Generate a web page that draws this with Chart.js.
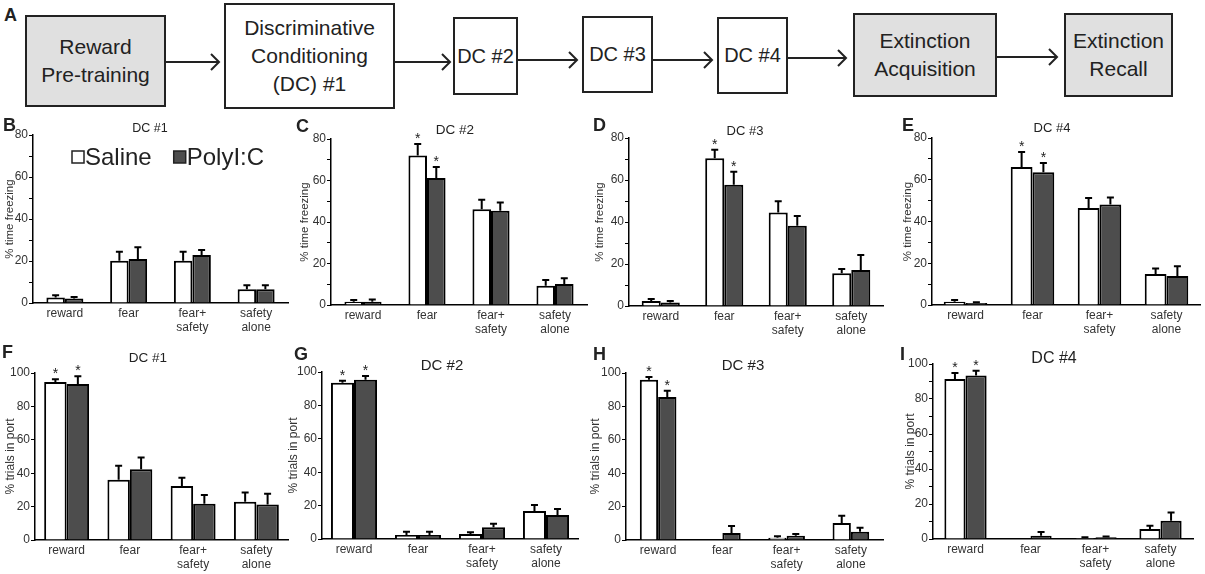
<!DOCTYPE html>
<html>
<head>
<meta charset="utf-8">
<title>Discriminative conditioning – Saline vs PolyI:C</title>
<script src="https://cdn.jsdelivr.net/npm/chart.js@4.4.1/dist/chart.umd.min.js"></script>
<style>
  html, body { margin: 0; padding: 0; background: #fff; overflow: hidden; }
  #fig { position: relative; width: 1205px; height: 574px; font-family: 'Liberation Sans', Arial, sans-serif; color: #222; }
  .box { position: absolute; box-sizing: border-box; border: 2px solid #222; display: flex; align-items: center; justify-content: center; text-align: center; font-size: 21px; line-height: 1.32; background: #fff; }
  .box.gray { background: #e0e0e0; }
  .box.small { font-size: 20px; }
  .letter { position: absolute; font-weight: bold; font-size: 18px; line-height: 1; }
  .panel { position: absolute; }
  #arrows { position: absolute; left: 0; top: 0; }
</style>
</head>
<body>
<div id="fig">
  <div class="letter" style="left:4px;top:6px">A</div>
  <div class="box gray" style="left:25px;top:15px;width:141px;height:92px">Reward<br>Pre-training</div>
  <div class="box" style="left:224px;top:3px;width:171px;height:106px">Discriminative<br>Conditioning<br>(DC) #1</div>
  <div class="box small" style="left:453px;top:17px;width:65px;height:78px">DC #2</div>
  <div class="box small" style="left:582px;top:16px;width:71px;height:77px">DC #3</div>
  <div class="box small" style="left:717px;top:17px;width:71px;height:77px">DC #4</div>
  <div class="box gray" style="left:853px;top:13px;width:144px;height:84px">Extinction<br>Acquisition</div>
  <div class="box gray" style="left:1064px;top:13px;width:109px;height:84px">Extinction<br>Recall</div>
  <svg id="arrows" width="1205" height="112" fill="none" stroke="#222" stroke-width="2">
    <path d="M166 62H219M211 54L219 62L211 70"/>
    <path d="M395 62H450M442 54L450 62L442 70"/>
    <path d="M518 60H577M569 52L577 60L569 68"/>
    <path d="M653 60H712M704 52L712 60L704 68"/>
    <path d="M788 58H846M838 50L846 58L838 66"/>
    <path d="M997 57H1057M1049 49L1057 57L1049 65"/>
  </svg>
</div>
<script>
Chart.defaults.font.family = "'Liberation Sans', Arial, sans-serif";
Chart.defaults.color = '#333';

// categories and groups
const categories = [['reward'], ['fear'], ['fear+', 'safety'], ['safety', 'alone']];
const groupNames = ['Saline', 'PolyI:C'];
const freezingTicks = [0, 20, 40, 60, 80];
const portTicks = [0, 20, 40, 60, 80, 100];

// % time freezing (B-E): mean and SEM
const freezeDC1Saline = [2.6, 20.1, 20.1, 6.5];
const freezeDC1SalineSem = [1.1, 4.3, 4.3, 2.0];
const freezeDC1Poly = [2.2, 20.9, 22.8, 6.5];
const freezeDC1PolySem = [0.7, 5.6, 2.4, 2.0];

const freezeDC2Saline = [1.6, 72.1, 46.2, 9.3];
const freezeDC2SalineSem = [0.8, 5.5, 4.5, 2.8];
const freezeDC2Poly = [1.6, 61.2, 45.4, 10.1];
const freezeDC2PolySem = [1.1, 5.3, 4.0, 2.8];

const freezeDC3Saline = [2.4, 70.4, 44.5, 15.6];
const freezeDC3SalineSem = [0.9, 4.0, 5.4, 2.0];
const freezeDC3Poly = [1.7, 57.7, 38.2, 17.2];
const freezeDC3PolySem = [0.7, 6.2, 4.6, 7.1];

const freezeDC4Saline = [1.6, 66.1, 46.5, 14.8];
const freezeDC4SalineSem = [0.8, 7.2, 4.7, 2.7];
const freezeDC4Poly = [1.0, 63.6, 48.1, 13.9];
const freezeDC4PolySem = [0.3, 4.4, 3.4, 4.7];

// % trials in port (F-I): mean and SEM
const portDC1Saline = [94.6, 36.1, 32.3, 22.9];
const portDC1SalineSem = [1.6, 8.3, 5.0, 5.6];
const portDC1Poly = [93.4, 42.4, 21.7, 21.3];
const portDC1PolySem = [4.6, 7.0, 5.2, 6.4];

const portDC2Saline = [93.6, 2.4, 3.0, 16.8];
const portDC2SalineSem = [1.2, 2.0, 1.0, 3.6];
const portDC2Poly = [95.4, 2.4, 7.0, 14.4];
const portDC2PolySem = [2.2, 2.0, 2.2, 3.6];

const portDC3Saline = [96.0, 0, 1.4, 10.2];
const portDC3SalineSem = [1.6, 0, 0.8, 4.3];
const portDC3Poly = [85.7, 4.2, 2.6, 5.0];
const portDC3PolySem = [3.7, 4.2, 1.0, 2.4];

const portDC4Saline = [91.4, 0, 0.6, 5.7];
const portDC4SalineSem = [3.4, 0, 0.4, 1.9];
const portDC4Poly = [93.5, 1.9, 1.0, 10.5];
const portDC4PolySem = [2.7, 2.1, 0.5, 4.6];

// which category gets significance stars
const freezeStars = [1];
const portStars = [0];

const FONT = "'Liberation Sans', Arial, sans-serif";

// panel layout (page pixels): canvas box [x, y, w, h], chart area [left, right, top, bottom]
const panels = [
  { letter: 'B', title: 'DC #1', titleAt: [150, 129, 12.5], letterAt: [3, 116], box: [0, 110, 300, 230], area: [33, 288, 135, 303], cat: 0.58,
    yTitle: '% time freezing', yMax: 80, yTicks: freezingTicks, stars: [], legend: true,
    saline: freezeDC1Saline, salineSem: freezeDC1SalineSem, poly: freezeDC1Poly, polySem: freezeDC1PolySem },
  { letter: 'C', title: 'DC #2', titleAt: [455, 130, 13.5], letterAt: [296, 117], box: [295, 110, 300, 230], area: [331, 587, 139, 305], cat: 0.58,
    yTitle: '% time freezing', yMax: 80, yTicks: freezingTicks, stars: freezeStars,
    saline: freezeDC2Saline, salineSem: freezeDC2SalineSem, poly: freezeDC2Poly, polySem: freezeDC2PolySem },
  { letter: 'D', title: 'DC #3', titleAt: [745, 131, 13], letterAt: [593, 116], box: [590, 110, 300, 230], area: [629, 883, 138, 306], cat: 0.6,
    yTitle: '% time freezing', yMax: 80, yTicks: freezingTicks, stars: freezeStars,
    saline: freezeDC3Saline, salineSem: freezeDC3SalineSem, poly: freezeDC3Poly, polySem: freezeDC3PolySem },
  { letter: 'E', title: 'DC #4', titleAt: [1052, 128, 13], letterAt: [902, 116], box: [898, 110, 307, 230], area: [932, 1200, 138, 305], cat: 0.65,
    yTitle: '% time freezing', yMax: 80, yTicks: freezingTicks, stars: freezeStars,
    saline: freezeDC4Saline, salineSem: freezeDC4SalineSem, poly: freezeDC4Poly, polySem: freezeDC4PolySem },
  { letter: 'F', title: 'DC #1', titleAt: [148, 358, 13.5], letterAt: [2, 343], box: [0, 340, 300, 234], area: [35, 288, 373, 540], cat: 0.71,
    yTitle: '% trials in port', yMax: 100, yTicks: portTicks, stars: portStars,
    saline: portDC1Saline, salineSem: portDC1SalineSem, poly: portDC1Poly, polySem: portDC1PolySem },
  { letter: 'G', title: 'DC #2', titleAt: [442, 366, 15], letterAt: [294, 345], box: [283, 340, 305, 234], area: [322, 578, 372, 539], cat: 0.72,
    yTitle: '% trials in port', yMax: 100, yTicks: portTicks, stars: portStars,
    saline: portDC2Saline, salineSem: portDC2SalineSem, poly: portDC2Poly, polySem: portDC2PolySem },
  { letter: 'H', title: 'DC #3', titleAt: [743, 366, 15], letterAt: [593, 345], box: [585, 340, 305, 234], area: [626, 883, 373, 540], cat: 0.57,
    yTitle: '% trials in port', yMax: 100, yTicks: portTicks, stars: portStars,
    saline: portDC3Saline, salineSem: portDC3SalineSem, poly: portDC3Poly, polySem: portDC3PolySem },
  { letter: 'I', title: 'DC #4', titleAt: [1054, 359, 16], letterAt: [900, 345], box: [900, 340, 305, 234], area: [933, 1193, 364, 539], cat: 0.65,
    yTitle: '% trials in port', yMax: 100, yTicks: portTicks, stars: portStars,
    saline: portDC4Saline, salineSem: portDC4SalineSem, poly: portDC4Poly, polySem: portDC4PolySem },
];

// error bars, asterisks, panel title and (for B) the in-plot legend
const barExtras = {
  id: 'barExtras',
  afterDatasetsDraw(chart, args, opts) {
    const { ctx } = chart;
    const y = chart.scales.y;
    ctx.save();
    ctx.strokeStyle = '#000';
    ctx.lineWidth = 2;
    ctx.fillStyle = '#222';
    ctx.textAlign = 'center';
    ctx.textBaseline = 'alphabetic';
    ctx.font = `14px ${FONT}`;
    chart.data.datasets.forEach((ds, di) => {
      chart.getDatasetMeta(di).data.forEach((bar, i) => {
        const sem = ds.sem[i];
        if (!sem) return;
        const top = y.getPixelForValue(ds.data[i] + sem);
        ctx.beginPath();
        ctx.moveTo(bar.x, bar.y);
        ctx.lineTo(bar.x, top);
        ctx.moveTo(bar.x - 3.5, top);
        ctx.lineTo(bar.x + 3.5, top);
        ctx.stroke();
        if (opts.stars.includes(i)) ctx.fillText('*', bar.x, top - 1);
      });
    });
    ctx.restore();
  },
  afterDraw(chart, args, opts) {
    const { ctx } = chart;
    ctx.save();
    ctx.fillStyle = '#222';
    ctx.textAlign = 'center';
    ctx.textBaseline = 'middle';
    ctx.font = `${opts.titleSize}px ${FONT}`;
    ctx.fillText(opts.title, opts.titleX, opts.titleY);

    if (opts.legend) {
      let x = opts.legend.x;
      const ly = opts.legend.y;
      ctx.font = `24px ${FONT}`;
      ctx.textAlign = 'left';
      chart.data.datasets.forEach((ds) => {
        ctx.fillStyle = ds.backgroundColor;
        ctx.fillRect(x, ly - 6, 12, 12);
        ctx.strokeStyle = '#222';
        ctx.lineWidth = 1.5;
        ctx.strokeRect(x, ly - 6, 12, 12);
        ctx.fillStyle = '#222';
        ctx.fillText(ds.label, x + 13, ly + 1);
        x += 13 + ctx.measureText(ds.label).width + 22;
      });
    }
    ctx.restore();
  },
};

const fig = document.getElementById('fig');

panels.forEach((p) => {
  const [cx, cy, cw, ch] = p.box;
  const [aLeft, aRight, aTop, aBottom] = p.area;

  const letter = document.createElement('div');
  letter.className = 'letter';
  letter.style.left = p.letterAt[0] + 'px';
  letter.style.top = p.letterAt[1] + 'px';
  letter.textContent = p.letter;

  const canvas = document.createElement('canvas');
  canvas.className = 'panel';
  canvas.width = cw;
  canvas.height = ch;
  canvas.style.left = cx + 'px';
  canvas.style.top = cy + 'px';
  fig.appendChild(canvas);
  fig.appendChild(letter);

  // eslint-disable-next-line no-new
  new Chart(canvas, {
    type: 'bar',
    data: {
      labels: categories,
      datasets: [
        { label: groupNames[0], data: p.saline, sem: p.salineSem, backgroundColor: '#ffffff', borderColor: '#000', borderWidth: 2 },
        { label: groupNames[1], data: p.poly, sem: p.polySem, backgroundColor: '#4d4d4d', borderColor: '#000', borderWidth: 2 },
      ],
    },
    options: {
      responsive: false,
      animation: false,
      datasets: { bar: { categoryPercentage: p.cat, barPercentage: 1 } },
      layout: { padding: { left: 0, right: cx + cw - aRight, top: aTop - cy, bottom: 0 } },
      plugins: {
        legend: { display: false },
        tooltip: { enabled: false },
        title: { display: false },
        barExtras: {
          stars: p.stars,
          title: p.title,
          titleX: p.titleAt[0] - cx,
          titleY: p.titleAt[1] - cy,
          titleSize: p.titleAt[2],
          legend: p.legend ? { x: 72 - cx, y: 157 - cy } : null,
        },
      },
      scales: {
        x: {
          grid: { display: false, drawTicks: false },
          border: { color: '#000', width: 1.5 },
          ticks: { color: '#333', font: { size: 12 }, padding: 3, autoSkip: false, maxRotation: 0 },
          afterFit: (s) => { s.height = cy + ch - aBottom; },
        },
        y: {
          min: 0,
          max: p.yMax,
          border: { color: '#000', width: 1.5 },
          grid: { drawOnChartArea: false, drawTicks: true, tickLength: 4, color: '#000', lineWidth: 1 },
          ticks: {
            stepSize: 10,
            padding: 1,
            color: '#333',
            font: { size: 12 },
            callback: (v) => (p.yTicks.includes(v) ? v : ''),
          },
          title: { display: true, text: p.yTitle, color: '#333', font: { size: p.yMax === 80 ? 11.5 : 12 }, padding: { top: 3, bottom: 0 } },
          afterFit: (s) => { s.width = aLeft - cx; },
        },
      },
    },
    plugins: [barExtras],
  });
});
</script>
</body>
</html>
